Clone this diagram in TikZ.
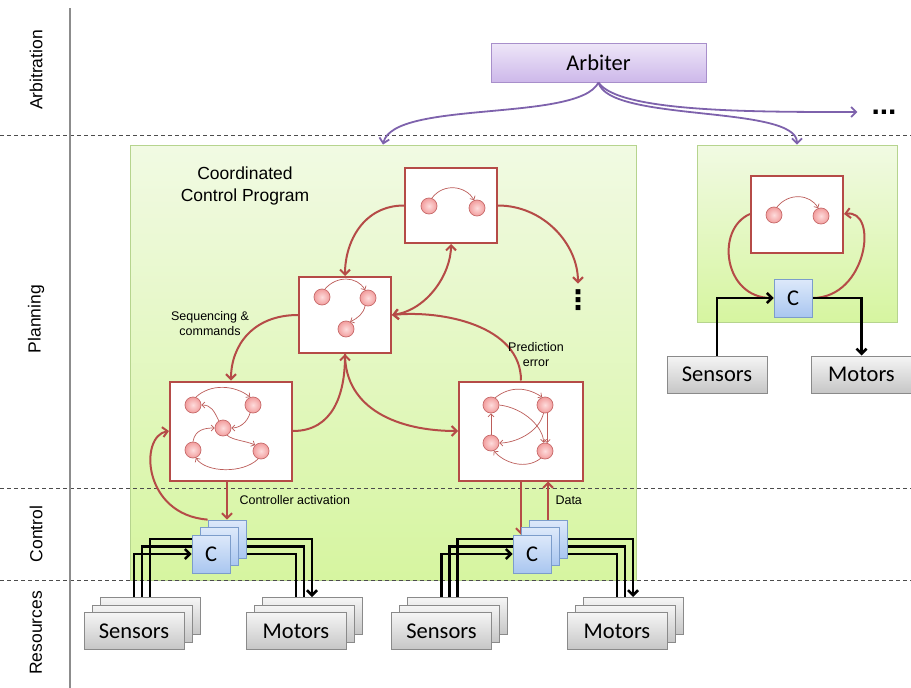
\documentclass[tikz,border=0pt]{standalone}
\usepackage{fontspec}
\setmainfont{Liberation Sans}
\newfontfamily\calibri{Carlito}
\newfontfamily\symbolfont{DejaVu Sans}
\usetikzlibrary{arrows.meta}
\definecolor{progred}{HTML}{B54B47}
\definecolor{arbline}{HTML}{7E62AC}
\definecolor{arbtop}{HTML}{EEE6F8}
\definecolor{arbbot}{HTML}{CDB8EA}
\definecolor{arbedge}{HTML}{A88FCB}
\definecolor{zonetop}{HTML}{F1FAE3}
\definecolor{zonebot}{HTML}{D6F5A0}
\definecolor{zoneedge}{HTML}{B6D48E}
\definecolor{ctrltop}{HTML}{DDE9FA}
\definecolor{ctrlbot}{HTML}{A9C6F0}
\definecolor{ctrledge}{HTML}{7C9DCB}
\definecolor{restop}{HTML}{F5F5F5}
\definecolor{resbot}{HTML}{C6C6C6}
\definecolor{resedge}{HTML}{8A8A8A}
\definecolor{stin}{HTML}{FDDCDC}
\definecolor{stout}{HTML}{F29D9D}
\definecolor{stedge}{HTML}{C76A6A}
\newcommand{\layerfont}{\fontsize{17.5}{22}\selectfont}
\newcommand{\notefont}{\fontsize{12.5}{15}\selectfont}
\newcommand{\boxfont}{\calibri\fontsize{22.5}{26}\selectfont}
\pgfdeclarelayer{zones}
\pgfdeclarelayer{wires}
\pgfsetlayers{zones,wires,main}

\begin{document}
\begin{tikzpicture}[x=1pt, y=-1pt,
    layerlbl/.style={rotate=90, font=\layerfont},
    layerline/.style={black!70, line width=0.8pt, dash pattern=on 4pt off 3pt},
    zone/.style={draw=zoneedge, top color=zonetop, bottom color=zonebot, line width=0.8pt},
    arbbox/.style={draw=arbedge, top color=arbtop, bottom color=arbbot, line width=1pt,
        minimum width=215pt, minimum height=39pt, font=\boxfont},
    arbarrow/.style={arbline, line width=1.8pt, -{Straight Barb[length=5pt,width=10pt]}},
    prog/.style={draw=progred, fill=white, line width=2pt, inner sep=0pt},
    st/.style={circle, draw=stedge, line width=0.7pt, inner color=stin, outer color=stout,
        minimum size=16pt, inner sep=0pt},
    smallarr/.style={progred!90, line width=0.7pt, -{Straight Barb[length=3pt,width=6pt]}},
    flow/.style={progred, line width=2pt, -{Straight Barb[length=5pt,width=10pt]}},
    ctrl/.style={draw=ctrledge, top color=ctrltop, bottom color=ctrlbot, line width=0.8pt,
        minimum size=38pt, inner sep=0pt, font=\boxfont},
    res/.style={draw=resedge, top color=restop, bottom color=resbot, line width=1pt,
        minimum width=100pt, minimum height=37pt, inner sep=0pt, font=\boxfont},
    sig/.style={black, line width=2.5pt, -{Straight Barb[length=5pt,width=10pt]}}]
    \useasboundingbox (0,0) rectangle (911,688);

    % Layer labels
    \node[layerlbl] (lArb) at (36,70) {Arbitration};
    \node[layerlbl] (lPlan) at (36,319) {Planning};
    \node[layerlbl] (lCtrl) at (36,534) {Control};
    \node[layerlbl] (lRes) at (36,633) {Resources};
    \draw[black!45, line width=1.2pt] (70,8) -- (70,688);

    % Green zones
    \begin{pgfonlayer}{zones}
        \node[zone, minimum width=506pt, minimum height=435pt] (ccp) at (383,362.5) {};
        \node[zone, minimum width=200pt, minimum height=177pt] (solo) at (797,233.5) {};
        \draw[layerline] (0,135) -- (911,135);
        \draw[layerline] (0,488) -- (911,488);
        \draw[layerline] (0,580) -- (911,580);
    \end{pgfonlayer}
    \node[align=center, font=\layerfont] (ccpTitle) at (245,186) {Coordinated\\Control Program};

    % Arbiter
    \node[arbbox] (arbiter) at (598.5,62.5) {Arbiter};
    \node[font=\bfseries\fontsize{30}{30}\selectfont, inner sep=0pt] (more) at (884,112) {...};
    \draw[arbarrow] (arbiter.south) .. controls +(-20,40) and +(10,-45) .. (ccp.north);
    \draw[arbarrow] (arbiter.south) .. controls +(10,40) and +(0,-40) .. (solo.north);
    \draw[arbarrow] (arbiter.south) .. controls +(20,30) and +(-100,0) .. ([xshift=-14pt]more.west);

    % Program boxes
    \node[prog, minimum width=92pt, minimum height=75pt] (ptop) at (451,205.5) {};
    \node[prog, minimum width=92pt, minimum height=76pt] (pmid) at (345,315) {};
    \node[prog, minimum width=122pt, minimum height=99pt] (pleft) at (231,431) {};
    \node[prog, minimum width=124pt, minimum height=99pt] (pright) at (521,431) {};
    \node[prog, minimum width=92pt, minimum height=77pt] (psolo) at (797,214) {};
    \node[font=\symbolfont\bfseries\fontsize{27}{27}\selectfont, inner sep=0pt, outer ysep=6pt] (vdots) at (578,300) {⋮};

    % States inside the programs
    \node[st] (t1) at (429,206) {};
    \node[st] (t2) at (477,208) {};
    \draw[smallarr] (t1.70) .. controls +(12,-16) and +(-8,-14) .. (t2.110);

    \node[st] (m1) at (322,297) {};
    \node[st] (m2) at (368,298) {};
    \node[st] (m3) at (346,329) {};
    \draw[smallarr] (m1.70) .. controls +(12,-14) and +(-8,-14) .. (m2.110);
    \draw[smallarr] (m2.250) .. controls +(-2,8) and +(8,-4) .. (m3.60);

    \node[st] (L1) at (193,405) {};
    \node[st] (L2) at (253,405) {};
    \node[st] (L3) at (223,428) {};
    \node[st] (L4) at (193,450) {};
    \node[st] (L5) at (261,451) {};
    \draw[smallarr] (L1.70) .. controls +(15,-14) and +(-15,-12) .. (L2.110);
    \draw[smallarr] (L2.250) .. controls +(-3,10) and +(8,0) .. (L3.east);
    \draw[smallarr] (L3.120) .. controls +(-5,-10) and +(10,0) .. (L1.east);
    \draw[smallarr] (L4.north) .. controls +(2,-12) and +(-10,0) .. (L3.west);
    \draw[smallarr] (L3.-60) .. controls +(5,5) and +(-8,-4) .. (L5.135);
    \draw[smallarr] (L5.250) .. controls +(-15,15) and +(10,15) .. (L4.-70);

    \node[st] (R1) at (491,405) {};
    \node[st] (R2) at (545,405) {};
    \node[st] (R3) at (491,443) {};
    \node[st] (R4) at (545,451) {};
    \draw[smallarr] (R1.60) .. controls +(15,-12) and +(-15,-10) .. (R2.110);
    \draw[smallarr] (R1.east) .. controls +(25,3) and +(0,-15) .. (R4.100);
    \draw[smallarr] (R2.260) .. controls +(-5,20) and +(15,0) .. (R3.east);
    \draw[smallarr] (R2.-75) -- (R4.75);
    \draw[smallarr] (R3.north) -- (R1.south);
    \draw[smallarr] (R4.240) .. controls +(-15,12) and +(10,12) .. (R3.-70);

    \node[st] (S1) at (774,215) {};
    \node[st] (S2) at (821,216) {};
    \draw[smallarr] (S1.70) .. controls +(12,-15) and +(-8,-14) .. (S2.110);

    % Controller stacks
    \foreach \nm/\x in {cL/227, cR/548} {
        \node[ctrl] (\nm3) at (\x,539) {};
        \node[ctrl] (\nm2) at ([shift={(-8,7.5)}]\nm3) {};
        \node[ctrl] (\nm1) at ([shift={(-8,7.5)}]\nm2) {C};
    }
    \node[ctrl] (cS) at (793,298) {C};

    % Sensors and motors
    \foreach \nm/\x/\txt in {sL/150/Sensors, mL/312/Motors, sR/457.5/Sensors, mR/633/Motors} {
        \node[res] (\nm3) at (\x,616) {};
        \node[res] (\nm2) at ([shift={(-8,7.5)}]\nm3) {};
        \node[res] (\nm1) at ([shift={(-8,7.5)}]\nm2) {\txt};
    }
    \node[res] (sS) at (717,374.5) {Sensors};
    \node[res] (mS) at (861.5,374.5) {Motors};

    % Red flows between programs
    \begin{pgfonlayer}{wires}
        \draw[flow] (ptop.west) .. controls +(-40,0) and +(0,-35) .. (pmid.north);
        \draw[flow, {Straight Barb[length=5pt,width=10pt]}-{Straight Barb[length=5pt,width=10pt]}]
            (pmid.east) .. controls +(35,-5) and +(0,30) .. (ptop.south);
        \draw[flow] (ptop.east) .. controls +(45,0) and +(0,-40) .. (vdots.north);
        \draw[flow] (pmid.west) .. controls +(-45,0) and +(0,-35) .. (pleft.north);
        \draw[flow] (pright.north) .. controls +(0,-55) and +(50,-5) .. (pmid.east);
        \draw[flow] (pleft.east) .. controls +(40,0) and +(0,40) .. (pmid.south);
        \draw[flow] (pmid.south) .. controls +(0,55) and +(-60,0) .. (pright.west);
        \draw[flow] (cL3.north |- pleft.south) -- (cL3.north);
        \draw[flow] (cL3.north west) .. controls +(-65,-5) and +(-30,5) .. (pleft.west);
        \draw[flow] (pright.south) -- (pright.south |- cR1.north);
        \draw[flow] (cR3.north) -- (cR3.north |- pright.south);
        \draw[flow] (psolo.west) .. controls +(-35,15) and +(-50,0) .. (cS.west);
        \draw[flow] (cS.east) .. controls +(55,0) and +(35,-5) .. (psolo.east);

        % Black signal lines
        \foreach \k in {1,2,3} {
            \draw[sig] (sL\k.north) |- (cL\k.west);
            \draw[sig] (cL\k.east) -| (mL\k.north);
            \draw[sig] (sR\k.north) |- (cR\k.west);
            \draw[sig] (cR\k.east) -| (mR\k.north);
        }
        \draw[sig] (sS.north) |- (cS.west);
        \draw[sig] (cS.east) -| (mS.north);
    \end{pgfonlayer}

    % Labels
    \node[align=center, font=\notefont] (seqLbl) at (210,324) {Sequencing \&\\commands};
    \node[align=center, font=\notefont] (predLbl) at (536,355) {Prediction\\error};
    \node[anchor=west, font=\notefont] (actLbl) at (236,500) {Controller activation};
    \node[anchor=west, font=\notefont] (dataLbl) at (552,500) {Data};
\end{tikzpicture}
\end{document}
